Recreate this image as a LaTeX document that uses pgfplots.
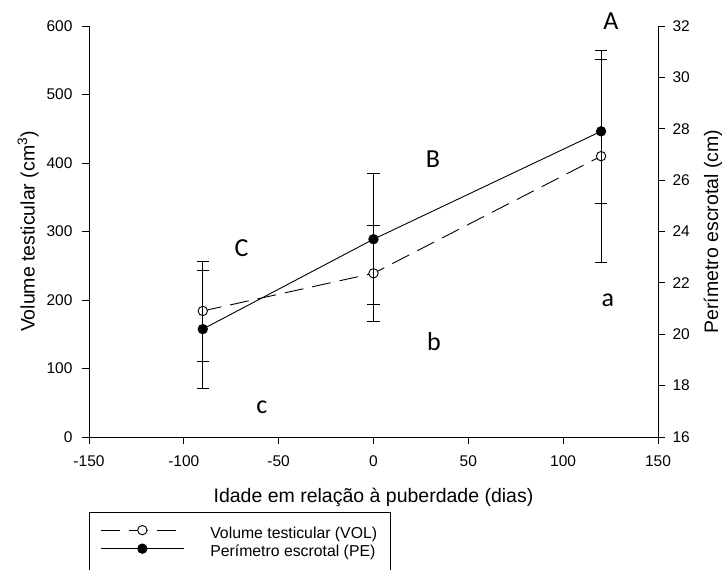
\documentclass[border=0pt]{standalone}
\usepackage{fontspec}
\setmainfont{Liberation Sans}
\newfontfamily\calfont{Carlito}
\usepackage{pgfplots}
\pgfplotsset{compat=1.18}
\tikzset{letter/.style={font=\calfont\fontsize{26}{30}\selectfont, anchor=center}}
\begin{document}
\begin{tikzpicture}
\path[use as bounding box] (-89pt,-133pt) rectangle (635pt,437pt);
\pgfplotsset{
  common/.style={
    at={(0,0)}, anchor=south west,
    scale only axis, width=569pt, height=411pt,
    xmin=-150, xmax=150,
    tick align=outside, major tick length=7pt,
    tick style={black, line width=0.8pt},
    axis line style={black, line width=0.9pt},
    ticklabel style={font=\fontsize{15.5}{17}\selectfont},
    /pgf/number format/assume math mode=true,
    clip=false,
  },
}
\begin{axis}[common,
  ymin=0, ymax=600,
  axis x line*=bottom, axis y line*=left,
  xtick={-150,-100,...,150}, ytick={0,100,...,600},
  yticklabel style={xshift=-6pt},
  xticklabel style={yshift=-8pt},
  xlabel style={at={(axis description cs:0.5,-0.148)}, anchor=center, font=\fontsize{19.5}{22}\selectfont},
  ylabel style={at={(axis description cs:-0.107,0.5)}, anchor=center, font=\fontsize{19.5}{22}\selectfont},
  xlabel={Idade em relação à puberdade (dias)},
  ylabel={Volume testicular (cm\textsuperscript{3})},
]
\addplot[black, line width=0.9pt, dash pattern=on 19pt off 9pt,
  mark=*, mark size=4.7pt, mark options={solid, fill=white, line width=0.9pt},
  error bars/.cd, y dir=both, y explicit,
  error bar style={solid, line width=0.8pt},
  error mark options={rotate=90, mark size=6.2pt, solid, line width=0.8pt}]
coordinates {(-90,184) +- (0,73) (0,239) +- (0,70) (120,410) +- (0,155)};
\node[letter] at (axis cs:125.2,607) {A};
\node[letter] at (axis cs:31.3,405.8) {B};
\node[letter] at (axis cs:-69.5,276) {C};
\node[letter] at (axis cs:123.6,199) {a};
\node[letter] at (axis cs:31.9,140) {b};
\node[letter] at (axis cs:-58.8,44) {c};
\end{axis}
\begin{axis}[common,
  ymin=16, ymax=32,
  axis x line=none, axis y line*=right,
  ytick={16,18,...,32},
  yticklabel style={xshift=4pt},
  ylabel style={at={(axis description cs:1.0967,0.5)}, anchor=center, font=\fontsize{19.5}{22}\selectfont},
  ylabel={Perímetro escrotal (cm)},
  legend style={at={(0,-0.1825)}, anchor=north west, draw=black, line width=0.8pt,
    font=\fontsize{15.8}{18}\selectfont, inner xsep=11pt, inner ysep=13pt, row sep=2pt,
    /tikz/every odd column/.append style={column sep=24pt},
    cells={anchor=west, inner xsep=0pt, inner ysep=1pt, text height=11pt, text depth=4pt}},
  legend image code/.code={\draw[mark repeat=2,mark phase=2,#1] plot coordinates {(0pt,3.5pt) (41.5pt,3.5pt) (83pt,3.5pt)};},
]
\addlegendimage{black, line width=0.9pt, dash pattern=on 19pt off 9pt,
  mark=*, mark size=4.7pt, mark options={solid, fill=white, line width=0.9pt}}
\addlegendentry{Volume testicular (VOL)}
\addplot[black, line width=0.9pt,
  mark=*, mark size=4.7pt, mark options={solid, fill=black},
  error bars/.cd, y dir=both, y explicit,
  error bar style={solid, line width=0.8pt},
  error mark options={rotate=90, mark size=6.2pt, solid, line width=0.8pt}]
coordinates {(-90,20.2) +- (0,2.3) (0,23.7) +- (0,2.55) (120,27.9) +- (0,2.8)};
\addlegendentry{Perímetro escrotal (PE)}
\end{axis}
\end{tikzpicture}
\end{document}
